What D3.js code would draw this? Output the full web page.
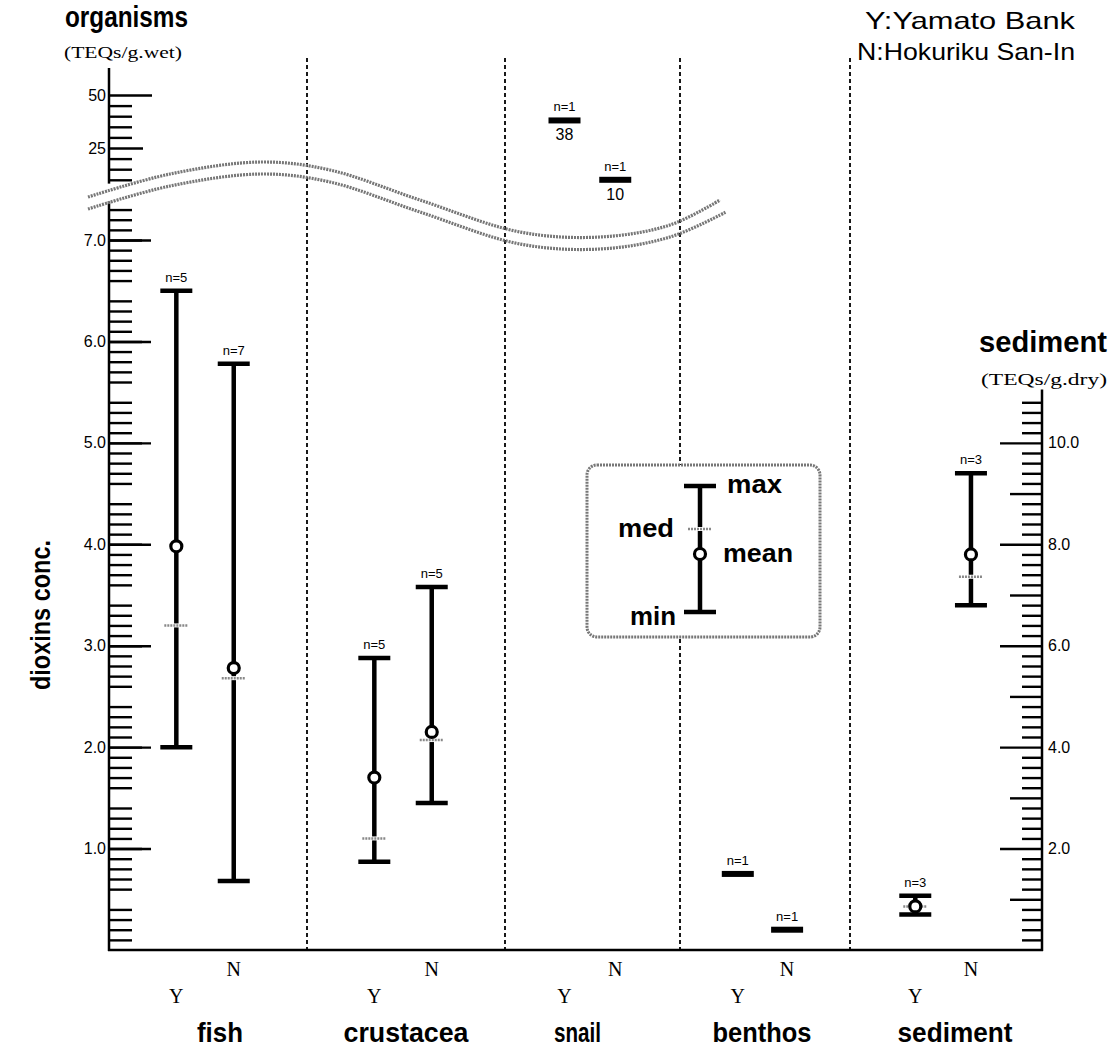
<!DOCTYPE html>
<html>
<head>
<meta charset="utf-8">
<script src="https://cdn.jsdelivr.net/npm/d3@7"></script>
<style>
  body { margin: 0; background: #fff; }
  svg { display: block; }
  .narrow { font-family: "Liberation Sans", Arial, sans-serif; font-weight: bold; }
  .serif { font-family: "Liberation Serif", "DejaVu Serif", serif; }
  .sans { font-family: "Liberation Sans", Arial, sans-serif; }
</style>
</head>
<body>
<div id="chart"></div>
<script>
// groups and sites
const groups = ['fish', 'crustacea', 'snail', 'benthos', 'sediment'];
const sites = ['Y', 'N'];

// values per group, [Y, N]; sediment in TEQs/g.dry (right axis), snail above the break
const nCount  = [[5, 7], [5, 5], [1, 1], [1, 1], [3, 3]];
const maxVals = [[6.5, 5.78], [2.88, 3.58], [38, 10], [0.75, 0.2], [1.07, 9.4]];
const meanVals = [[3.98, 2.78], [1.70, 2.15], [null, null], [null, null], [0.86, 7.8]];
const medVals = [[3.2, 2.68], [1.1, 2.07], [null, null], [null, null], [0.86, 7.36]];
const minVals = [[2.0, 0.68], [0.87, 1.45], [38, 10], [0.75, 0.2], [0.70, 6.8]];

// tick labels
const leftLowTicks = [1, 2, 3, 4, 5, 6, 7];
const leftHighTicks = [25, 50];
const rightTicks = [2, 4, 6, 8, 10];

const W = 1115, H = 1053;
const svg = d3.select('#chart').append('svg')
  .attr('width', W)
  .attr('height', H);

const axisX = 109, rightX = 1042, baseY = 950;

// scales
const x = d3.scaleLinear()
  .domain([0, 1, 2, 3, 4, 5])
  .range([axisX, 307, 505, 680, 850, rightX]);
const siteOffset = { Y: 0.34, N: 0.63 };

const yLow = d3.scaleLinear().domain([0, 7]).range([baseY, 240]);
const yHigh = d3.scaleLinear().domain([25, 50]).range([148, 95]);
const yRight = d3.scaleLinear().domain([0, 14]).range([baseY, 240]);

const yFor = (gi, v) => {
  if (groups[gi] === 'sediment') return yRight(v);
  if (v > 8) return yHigh(v);
  return yLow(v);
};

const fmt = d3.format('.1f');

// squeeze a label to the condensed width of the original lettering
const squeeze = (sel, w) => sel.attr('textLength', w).attr('lengthAdjust', 'spacingAndGlyphs');

// separators
svg.append('g')
  .selectAll('line')
  .data([1, 2, 3, 4])
  .join('line')
    .attr('x1', d => x(d)).attr('x2', d => x(d))
    .attr('y1', 58).attr('y2', baseY)
    .attr('stroke', '#000')
    .attr('stroke-width', 1.8)
    .attr('stroke-dasharray', '4,3');

// left axis, lower part
const range01 = (a, b, step) => d3.range(Math.round(a / step), Math.round(b / step) + 1).map(i => +(i * step).toFixed(2));
const lowMinor = range01(0.1, 7.3, 0.1).filter(v => Math.abs(v * 2 - Math.round(v * 2)) > 1e-6);
const lowMid = range01(0.5, 6.5, 1);

function styleAxis(g) {
  g.select('.domain').remove();
  g.selectAll('.tick line').attr('stroke', '#000').attr('stroke-width', 2.4);
  g.selectAll('.tick text')
    .attr('class', 'sans')
    .attr('fill', '#000')
    .style('font-size', '16px');
}

svg.append('g').attr('transform', `translate(${axisX},0)`)
  .call(d3.axisLeft(yLow).tickValues(lowMinor).tickSize(-23).tickFormat(''))
  .call(styleAxis);
svg.append('g').attr('transform', `translate(${axisX},0)`)
  .call(d3.axisLeft(yLow).tickValues(lowMid).tickSize(-33).tickFormat(''))
  .call(styleAxis);
svg.append('g').attr('transform', `translate(${axisX},0)`)
  .call(d3.axisLeft(yLow).tickValues(leftLowTicks).tickSize(-42).tickPadding(3).tickFormat(fmt))
  .call(styleAxis);

// left axis, upper part
svg.append('g').attr('transform', `translate(${axisX},0)`)
  .call(d3.axisLeft(yHigh).tickValues([45, 40, 35, 30, 20, 15, 10]).tickSize(-23).tickFormat(''))
  .call(styleAxis);
svg.append('g').attr('transform', `translate(${axisX},0)`)
  .call(d3.axisLeft(yHigh).tickValues(leftHighTicks.slice(0, 1)).tickSize(-34).tickPadding(3).tickFormat(d3.format('d')))
  .call(styleAxis);
svg.append('g').attr('transform', `translate(${axisX},0)`)
  .call(d3.axisLeft(yHigh).tickValues(leftHighTicks.slice(1)).tickSize(-43).tickPadding(3).tickFormat(d3.format('d')))
  .call(styleAxis);

// axis lines (broken)
svg.append('line')
  .attr('x1', axisX).attr('x2', axisX)
  .attr('y1', 68).attr('y2', yHigh(8.2))
  .attr('stroke', '#000').attr('stroke-width', 2.5);
svg.append('line')
  .attr('x1', axisX).attr('x2', axisX)
  .attr('y1', yLow(7.38)).attr('y2', baseY + 1)
  .attr('stroke', '#000').attr('stroke-width', 2.5);

// right axis
const rMinor = range01(0.2, 10.8, 0.2).filter(v => Math.abs(v - Math.round(v)) > 1e-6);
const rMid = [1, 3, 5, 7, 9];
svg.append('g').attr('transform', `translate(${rightX},0)`)
  .call(d3.axisRight(yRight).tickValues(rMinor).tickSize(-20).tickFormat(''))
  .call(styleAxis);
svg.append('g').attr('transform', `translate(${rightX},0)`)
  .call(d3.axisRight(yRight).tickValues(rMid).tickSize(-32).tickFormat(''))
  .call(styleAxis);
svg.append('g').attr('transform', `translate(${rightX},0)`)
  .call(d3.axisRight(yRight).tickValues(rightTicks).tickSize(-42).tickPadding(6).tickFormat(fmt))
  .call(styleAxis);
svg.append('line')
  .attr('x1', rightX).attr('x2', rightX)
  .attr('y1', yRight(11.05)).attr('y2', baseY + 1)
  .attr('stroke', '#000').attr('stroke-width', 2.5);

// bottom axis
svg.append('line')
  .attr('x1', axisX - 1).attr('x2', rightX + 1)
  .attr('y1', baseY).attr('y2', baseY)
  .attr('stroke', '#000').attr('stroke-width', 2.5);

// break marks
const wave = [[88, 197], [170, 174], [262, 162], [330, 170], [420, 200], [520, 232], [600, 237], [670, 225], [720, 200]];
const waveLine = d3.line().curve(d3.curveCatmullRom);
[0, 12].forEach((dy, i) => {
  svg.append('path')
    .attr('d', waveLine(wave.map(([px, py], j) => [px + (j === wave.length - 1 ? i * 6 : 0), py + dy])))
    .attr('fill', 'none')
    .attr('stroke', '#777')
    .attr('stroke-width', 3.2)
    .attr('stroke-dasharray', '2,1');
});

// marks
const rows = [];
groups.forEach((g, gi) => {
  sites.forEach((s, si) => {
    rows.push({
      gi, s,
      n: nCount[gi][si],
      max: maxVals[gi][si],
      mean: meanVals[gi][si],
      med: medVals[gi][si],
      min: minVals[gi][si]
    });
  });
});
const cx = d => x(d.gi + siteOffset[d.s]);
const capW = 16;

const marks = svg.append('g');
const ranged = rows.filter(d => d.n > 1);
const singles = rows.filter(d => d.n === 1);

marks.selectAll('.whisker')
  .data(ranged)
  .join('line')
    .attr('class', 'whisker')
    .attr('x1', cx).attr('x2', cx)
    .attr('y1', d => yFor(d.gi, d.max))
    .attr('y2', d => yFor(d.gi, d.min))
    .attr('stroke', '#000')
    .attr('stroke-width', 4.5);

['max', 'min'].forEach(k => {
  marks.selectAll('.cap-' + k)
    .data(ranged)
    .join('line')
      .attr('class', 'cap-' + k)
      .attr('x1', d => cx(d) - capW).attr('x2', d => cx(d) + capW)
      .attr('y1', d => yFor(d.gi, d[k]))
      .attr('y2', d => yFor(d.gi, d[k]))
      .attr('stroke', '#000')
      .attr('stroke-width', 4.5);
});

// medians
marks.selectAll('.med-bg')
  .data(ranged)
  .join('rect')
    .attr('class', 'med-bg')
    .attr('x', d => cx(d) - 12).attr('width', 24)
    .attr('y', d => yFor(d.gi, d.med) - 2).attr('height', 4)
    .attr('fill', '#fff');
marks.selectAll('.med')
  .data(ranged)
  .join('line')
    .attr('class', 'med')
    .attr('x1', d => cx(d) - 12).attr('x2', d => cx(d) + 12)
    .attr('y1', d => yFor(d.gi, d.med))
    .attr('y2', d => yFor(d.gi, d.med))
    .attr('stroke', '#888')
    .attr('stroke-width', 2.5)
    .attr('stroke-dasharray', '2,1');

// means
marks.selectAll('.mean')
  .data(ranged)
  .join('circle')
    .attr('class', 'mean')
    .attr('cx', cx)
    .attr('cy', d => yFor(d.gi, d.mean))
    .attr('r', 5.5)
    .attr('fill', '#fff')
    .attr('stroke', '#000')
    .attr('stroke-width', 3.2);

// single values
marks.selectAll('.single')
  .data(singles)
  .join('rect')
    .attr('class', 'single')
    .attr('x', d => cx(d) - capW).attr('width', capW * 2)
    .attr('y', d => yFor(d.gi, d.max) - 3).attr('height', 6)
    .attr('fill', '#000');

// n labels
marks.selectAll('.nlab')
  .data(rows)
  .join('text')
    .attr('class', 'nlab sans')
    .attr('x', cx)
    .attr('y', d => yFor(d.gi, d.max) - 9)
    .attr('text-anchor', 'middle')
    .style('font-size', '13px')
    .text(d => 'n=' + d.n);

// values under the high snail bars
marks.selectAll('.vlab')
  .data(singles.filter(d => d.max > 8))
  .join('text')
    .attr('class', 'vlab sans')
    .attr('x', cx)
    .attr('y', d => yFor(d.gi, d.max) + 20)
    .attr('text-anchor', 'middle')
    .style('font-size', '16px')
    .text(d => d.max);

// Y / N labels
svg.append('g')
  .selectAll('text')
  .data(rows)
  .join('text')
    .attr('class', 'serif')
    .attr('x', cx)
    .attr('y', d => d.s === 'Y' ? 1003 : 976)
    .attr('text-anchor', 'middle')
    .style('font-size', '20px')
    .text(d => d.s);

// group labels
const groupW = [46, 125, 47, 99, 115];
const groupShift = [12, 0, -15, -3, 9];
svg.append('g')
  .selectAll('text')
  .data(groups)
  .join('text')
    .attr('class', 'narrow')
    .attr('x', (d, i) => x(i + 0.5) + groupShift[i])
    .attr('y', 1042)
    .attr('text-anchor', 'middle')
    .style('font-size', '27px')
    .attr('textLength', (d, i) => groupW[i])
    .attr('lengthAdjust', 'spacingAndGlyphs')
    .text(d => d);

// titles
svg.append('text').attr('class', 'narrow')
  .attr('x', 65).attr('y', 27)
  .style('font-size', '29px')
  .call(squeeze, 123)
  .text('organisms');
svg.append('text').attr('class', 'serif')
  .attr('x', 64).attr('y', 58)
  .style('font-size', '17px')
  .call(squeeze, 118)
  .text('(TEQs/g.wet)');
svg.append('text').attr('class', 'narrow')
  .attr('x', 1107).attr('y', 352)
  .attr('text-anchor', 'end')
  .style('font-size', '29px')
  .call(squeeze, 128)
  .text('sediment');
svg.append('text').attr('class', 'serif')
  .attr('x', 1107).attr('y', 385)
  .attr('text-anchor', 'end')
  .style('font-size', '17px')
  .call(squeeze, 126)
  .text('(TEQs/g.dry)');
svg.append('text').attr('class', 'narrow')
  .attr('transform', 'translate(50,615) rotate(-90)')
  .attr('text-anchor', 'middle')
  .style('font-size', '27px')
  .call(squeeze, 150)
  .text('dioxins conc.');

// site key
svg.append('text').attr('class', 'sans')
  .attr('x', 1075).attr('y', 29)
  .attr('text-anchor', 'end')
  .style('font-size', '24px')
  .call(squeeze, 210)
  .text('Y:Yamato Bank');
svg.append('text').attr('class', 'sans')
  .attr('x', 1075).attr('y', 60)
  .attr('text-anchor', 'end')
  .style('font-size', '24px')
  .call(squeeze, 218)
  .text('N:Hokuriku San-In');

// legend box
const lg = svg.append('g');
lg.append('rect')
  .attr('x', 587).attr('y', 465)
  .attr('width', 233).attr('height', 172)
  .attr('rx', 10)
  .attr('fill', '#fff')
  .attr('stroke', '#777')
  .attr('stroke-width', 3)
  .attr('stroke-dasharray', '2,1');
const lx = 700, lMax = 486, lMin = 612, lMed = 529, lMean = 554;
lg.append('line').attr('x1', lx).attr('x2', lx).attr('y1', lMax).attr('y2', lMin)
  .attr('stroke', '#000').attr('stroke-width', 4.5);
[lMax, lMin].forEach(yy => lg.append('line')
  .attr('x1', lx - capW).attr('x2', lx + capW).attr('y1', yy).attr('y2', yy)
  .attr('stroke', '#000').attr('stroke-width', 4.5));
lg.append('rect').attr('x', lx - 12).attr('width', 24).attr('y', lMed - 2).attr('height', 4).attr('fill', '#fff');
lg.append('line').attr('x1', lx - 12).attr('x2', lx + 12).attr('y1', lMed).attr('y2', lMed)
  .attr('stroke', '#888').attr('stroke-width', 2.5).attr('stroke-dasharray', '2,1');
lg.append('circle').attr('cx', lx).attr('cy', lMean).attr('r', 5.5)
  .attr('fill', '#fff').attr('stroke', '#000').attr('stroke-width', 3.2);
[['max', 727, lMax + 7, 'start', 55], ['med', 674, lMed + 8, 'end', 56], ['mean', 723, lMean + 8, 'start', 70], ['min', 676, lMin + 13, 'end', 46]]
  .forEach(([t, tx, ty, a, w]) => lg.append('text')
    .attr('class', 'narrow')
    .attr('x', tx).attr('y', ty)
    .attr('text-anchor', a)
    .style('font-size', '25px')
    .call(squeeze, w)
    .text(t));
</script>
</body>
</html>
